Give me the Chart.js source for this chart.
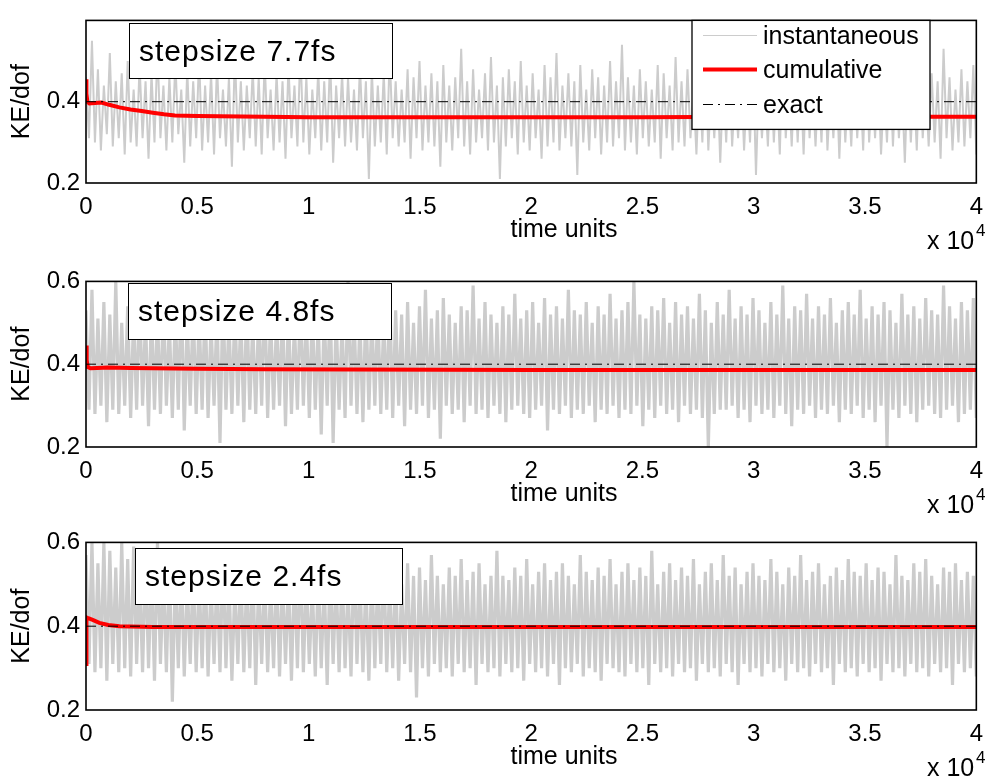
<!DOCTYPE html>
<html>
<head>
<meta charset="utf-8">
<script src="https://cdn.jsdelivr.net/npm/chart.js@4.4.1/dist/chart.umd.min.js"></script>
<style>
  body { margin: 0; background: #fff; width: 993px; height: 783px; overflow: hidden; position: relative; }
  canvas { position: absolute; left: 0; }
</style>
</head>
<body>
<canvas id="p1" width="993" height="261" style="top:0px"></canvas>
<canvas id="p2" width="993" height="261" style="top:261px"></canvas>
<canvas id="p3" width="993" height="261" style="top:522px"></canvas>
<script>
// time units run 0..40000, shown as 0..4 x 10^4
const tMax = 40000;
const exactValue = 0.4;
const xTicks = [0, 0.5, 1, 1.5, 2, 2.5, 3, 3.5, 4];

// stepsize 7.7fs -- instantaneous KE/dof, evenly sampled over the run
const inst77 = [
  0.46,0.31,0.55,0.30,0.48,0.28,0.44,0.32,0.52,0.29,0.45,0.31,0.47,0.27,0.50,0.30,0.43,0.29,0.49,0.31,
  0.45,0.26,0.47,0.30,0.53,0.31,0.44,0.28,0.46,0.30,0.50,0.32,0.43,0.25,0.48,0.29,0.45,0.31,0.51,0.28,
  0.44,0.30,0.47,0.27,0.49,0.31,0.43,0.29,0.46,0.24,0.52,0.30,0.45,0.28,0.44,0.31,0.48,0.29,0.46,0.27,
  0.50,0.31,0.43,0.28,0.47,0.30,0.45,0.26,0.49,0.31,0.44,0.29,0.53,0.30,0.46,0.27,0.43,0.31,0.48,0.28,
  0.45,0.30,0.51,0.25,0.44,0.31,0.47,0.29,0.46,0.30,0.43,0.28,0.49,0.31,0.45,0.21,0.48,0.29,0.44,0.30,
  0.47,0.27,0.52,0.31,0.45,0.29,0.43,0.30,0.48,0.26,0.46,0.31,0.50,0.28,0.44,0.30,0.47,0.29,0.45,0.24,
  0.49,0.30,0.44,0.28,0.46,0.31,0.53,0.29,0.45,0.27,0.48,0.30,0.43,0.31,0.47,0.28,0.51,0.30,0.44,0.21,
  0.46,0.29,0.48,0.31,0.45,0.27,0.50,0.30,0.44,0.28,0.47,0.31,0.43,0.26,0.49,0.29,0.46,0.30,0.52,0.28,
  0.44,0.31,0.47,0.29,0.45,0.22,0.49,0.30,0.43,0.28,0.48,0.31,0.46,0.27,0.44,0.30,0.50,0.29,0.45,0.31,
  0.54,0.28,0.46,0.30,0.44,0.27,0.48,0.31,0.45,0.29,0.43,0.30,0.49,0.26,0.47,0.31,0.44,0.28,0.51,0.30,
  0.45,0.29,0.48,0.31,0.43,0.27,0.46,0.30,0.52,0.28,0.44,0.31,0.47,0.25,0.45,0.30,0.49,0.29,0.43,0.31,
  0.47,0.28,0.44,0.30,0.50,0.22,0.46,0.31,0.43,0.29,0.48,0.30,0.45,0.27,0.53,0.31,0.44,0.29,0.47,0.30,
  0.46,0.27,0.49,0.31,0.44,0.29,0.45,0.30,0.51,0.28,0.43,0.31,0.47,0.26,0.46,0.30,0.44,0.29,0.48,0.31,
  0.45,0.28,0.52,0.30,0.44,0.31,0.47,0.27,0.43,0.30,0.49,0.29,0.46,0.31,0.44,0.25,0.48,0.30,0.45,0.28,
  0.50,0.31,0.44,0.29,0.47,0.30,0.45,0.26,0.53,0.31,0.46,0.28,0.43,0.30,0.48,0.29,0.45,0.31,0.49,0.27
];
const cumTime77 = [0, 20, 60, 150, 400, 700, 1000, 1500, 2000, 2500, 3000, 3500, 4000, 5000, 6000, 8000, 10000, 15000, 20000, 25000, 30000, 35000, 40000];
const cumVal77  = [0.455, 0.42, 0.40, 0.396, 0.397, 0.398, 0.393, 0.386, 0.381, 0.377, 0.373, 0.369, 0.366, 0.365, 0.364, 0.363, 0.362, 0.362, 0.362, 0.362, 0.363, 0.363, 0.363];

// stepsize 4.8fs
const inst48 = [
  0.53,0.29,0.58,0.28,0.51,0.30,0.55,0.26,0.52,0.29,0.60,0.28,0.50,0.30,0.54,0.27,0.52,0.29,0.57,0.30,
  0.51,0.25,0.54,0.29,0.52,0.28,0.56,0.30,0.50,0.27,0.53,0.29,0.59,0.24,0.51,0.30,0.54,0.28,0.52,0.29,
  0.55,0.27,0.50,0.30,0.53,0.21,0.57,0.29,0.51,0.28,0.54,0.30,0.52,0.26,0.56,0.29,0.50,0.28,0.53,0.30,
  0.58,0.27,0.52,0.29,0.51,0.30,0.55,0.25,0.53,0.28,0.50,0.29,0.57,0.30,0.52,0.27,0.54,0.29,0.51,0.23,
  0.53,0.30,0.56,0.21,0.52,0.29,0.50,0.27,0.60,0.30,0.53,0.28,0.51,0.26,0.55,0.29,0.52,0.30,0.54,0.28,
  0.51,0.29,0.57,0.27,0.53,0.30,0.52,0.25,0.55,0.29,0.50,0.28,0.54,0.30,0.58,0.27,0.51,0.29,0.53,0.22,
  0.56,0.30,0.52,0.28,0.50,0.29,0.54,0.26,0.53,0.30,0.59,0.28,0.51,0.29,0.55,0.27,0.52,0.30,0.50,0.28,
  0.54,0.26,0.52,0.29,0.57,0.30,0.51,0.28,0.53,0.27,0.55,0.29,0.50,0.30,0.56,0.24,0.52,0.29,0.54,0.28,
  0.51,0.30,0.58,0.27,0.53,0.29,0.52,0.28,0.55,0.30,0.50,0.26,0.54,0.29,0.52,0.28,0.57,0.30,0.51,0.27,
  0.53,0.29,0.55,0.28,0.60,0.30,0.52,0.25,0.51,0.29,0.54,0.27,0.53,0.30,0.56,0.28,0.50,0.29,0.55,0.26,
  0.52,0.30,0.54,0.28,0.51,0.29,0.57,0.27,0.53,0.20,0.50,0.28,0.55,0.29,0.52,0.29,0.58,0.30,0.51,0.27,
  0.54,0.29,0.52,0.26,0.56,0.30,0.53,0.28,0.50,0.29,0.55,0.27,0.52,0.30,0.59,0.28,0.51,0.25,0.54,0.29,
  0.53,0.28,0.57,0.30,0.51,0.27,0.54,0.29,0.52,0.28,0.56,0.30,0.50,0.26,0.53,0.29,0.55,0.28,0.52,0.30,
  0.58,0.27,0.51,0.29,0.54,0.26,0.52,0.30,0.55,0.20,0.53,0.29,0.50,0.27,0.57,0.30,0.52,0.28,0.54,0.26,
  0.51,0.29,0.56,0.30,0.53,0.28,0.52,0.27,0.59,0.29,0.54,0.30,0.51,0.26,0.55,0.28,0.53,0.29,0.56,0.27
];
const cumTime48 = [0, 30, 80, 200, 500, 1000, 2000, 3000, 5000, 8000, 12000, 20000, 30000, 40000];
const cumVal48  = [0.445, 0.41, 0.393, 0.390, 0.391, 0.392, 0.391, 0.390, 0.389, 0.388, 0.387, 0.386, 0.386, 0.386];

// stepsize 2.4fs
const inst24 = [
  0.57,0.31,0.60,0.29,0.55,0.30,0.60,0.27,0.58,0.31,0.54,0.29,0.60,0.30,0.56,0.28,0.59,0.31,0.53,0.29,
  0.57,0.30,0.55,0.27,0.60,0.31,0.52,0.29,0.56,0.22,0.53,0.30,0.55,0.28,0.51,0.31,0.54,0.29,0.52,0.30,
  0.55,0.28,0.51,0.31,0.53,0.29,0.57,0.30,0.52,0.27,0.50,0.31,0.54,0.29,0.52,0.30,0.56,0.26,0.51,0.31,
  0.53,0.29,0.50,0.30,0.55,0.28,0.52,0.31,0.51,0.27,0.54,0.30,0.58,0.29,0.52,0.31,0.50,0.28,0.53,0.30,
  0.51,0.26,0.55,0.31,0.52,0.29,0.54,0.30,0.50,0.28,0.57,0.31,0.52,0.29,0.51,0.27,0.54,0.30,0.52,0.31,
  0.56,0.29,0.51,0.30,0.53,0.27,0.50,0.31,0.55,0.29,0.52,0.23,0.54,0.30,0.51,0.28,0.57,0.31,0.52,0.29,
  0.50,0.30,0.54,0.28,0.52,0.31,0.56,0.29,0.51,0.30,0.53,0.26,0.55,0.31,0.50,0.29,0.52,0.30,0.58,0.28,
  0.52,0.31,0.51,0.29,0.54,0.30,0.52,0.27,0.56,0.31,0.50,0.29,0.53,0.30,0.55,0.28,0.51,0.31,0.53,0.26,
  0.55,0.30,0.52,0.29,0.50,0.31,0.57,0.28,0.53,0.30,0.51,0.29,0.54,0.27,0.52,0.31,0.56,0.30,0.50,0.29,
  0.53,0.28,0.55,0.31,0.51,0.29,0.54,0.30,0.52,0.26,0.58,0.31,0.50,0.29,0.53,0.30,0.55,0.28,0.51,0.31,
  0.54,0.29,0.52,0.30,0.56,0.27,0.50,0.31,0.53,0.29,0.55,0.30,0.51,0.28,0.57,0.31,0.52,0.29,0.54,0.26,
  0.50,0.31,0.53,0.29,0.55,0.30,0.52,0.28,0.51,0.31,0.56,0.29,0.53,0.30,0.50,0.27,0.54,0.31,0.52,0.29,
  0.57,0.30,0.51,0.28,0.53,0.31,0.55,0.29,0.50,0.30,0.52,0.26,0.54,0.31,0.51,0.29,0.56,0.30,0.53,0.28,
  0.52,0.31,0.55,0.29,0.51,0.30,0.54,0.27,0.53,0.31,0.50,0.29,0.57,0.30,0.52,0.28,0.51,0.31,0.55,0.29,
  0.53,0.30,0.56,0.28,0.52,0.31,0.50,0.29,0.54,0.30,0.53,0.26,0.55,0.31,0.51,0.29,0.53,0.30,0.52,0.28
];
const cumTime24 = [0, 10, 30, 100, 300, 600, 1000, 1500, 2000, 3000, 5000, 10000, 20000, 30000, 40000];
const cumVal24  = [0.31, 0.40, 0.421, 0.419, 0.415, 0.408, 0.403, 0.400, 0.399, 0.398, 0.398, 0.398, 0.398, 0.398, 0.398];

const FONT = "'Liberation Sans', Arial, Helvetica, sans-serif";
const GREY = '#cccccc';
const RED = '#ff0000';
const DASHDOT = [10, 5, 2, 5];

// frame, x label, exponent, text box and legend drawn over the chart
const decor = {
  id: 'decor',
  afterDraw(chart, args, opts) {
    const { ctx, chartArea: a } = chart;
    ctx.save();
    ctx.strokeStyle = '#000';
    ctx.lineWidth = 1.6;
    ctx.strokeRect(a.left, a.top, a.right - a.left, a.bottom - a.top);

    ctx.fillStyle = '#000';
    ctx.textBaseline = 'middle';
    ctx.textAlign = 'center';
    ctx.font = '25px ' + FONT;
    ctx.fillText('time units', 564, a.bottom + 47);
    ctx.textAlign = 'left';
    ctx.fillText('x 10', 927, a.bottom + 59);
    ctx.font = '17px ' + FONT;
    ctx.fillText('4', 976, a.bottom + 48);

    // stepsize box
    const b = opts.box;
    ctx.fillStyle = '#fff';
    ctx.fillRect(b.x, b.y, b.w, b.h);
    ctx.lineWidth = 1;
    ctx.strokeStyle = '#000';
    ctx.strokeRect(b.x + 0.5, b.y + 0.5, b.w, b.h);
    ctx.fillStyle = '#000';
    ctx.font = '30px ' + FONT;
    ctx.textBaseline = 'alphabetic';
    ctx.letterSpacing = '1px';
    ctx.fillText(b.text, b.x + 10, b.y + 38);
    ctx.letterSpacing = '0px';

    if (opts.legend) {
      const lx = 692, ly = a.top, lw = 238, lh = 109;
      ctx.fillStyle = '#fff';
      ctx.fillRect(lx, ly, lw, lh);
      ctx.strokeStyle = '#000';
      ctx.lineWidth = 1.3;
      ctx.strokeRect(lx, ly, lw, lh);
      const items = [
        { text: 'instantaneous', color: GREY, width: 1, dash: [], y: 35 },
        { text: 'cumulative', color: RED, width: 4, dash: [], y: 69 },
        { text: 'exact', color: '#000', width: 1, dash: DASHDOT, y: 104 }
      ];
      items.forEach((it) => {
        ctx.beginPath();
        ctx.strokeStyle = it.color;
        ctx.lineWidth = it.width;
        ctx.setLineDash(it.dash);
        ctx.moveTo(703, it.y + 0.5);
        ctx.lineTo(757, it.y + 0.5);
        ctx.stroke();
        ctx.setLineDash([]);
        ctx.fillStyle = '#000';
        ctx.font = '25px ' + FONT;
        ctx.textBaseline = 'middle';
        ctx.fillText(it.text, 763, it.y + 2);
      });
    }
    ctx.restore();
  }
};

function makePanel(id, inst, cumTime, cumVal, p) {
  const step = tMax / (inst.length - 1);
  const instData = inst.map((v, i) => ({ x: i * step, y: v }));
  const cumData = cumTime.map((t, i) => ({ x: t, y: cumVal[i] }));
  const exactData = [{ x: 0, y: exactValue }, { x: tMax, y: exactValue }];

  new Chart(document.getElementById(id), {
    type: 'line',
    data: {
      datasets: [
        { label: 'exact', data: exactData, borderColor: '#000', borderWidth: 1, borderDash: DASHDOT, order: 0 },
        { label: 'cumulative', data: cumData, borderColor: RED, borderWidth: 4, order: 1 },
        { label: 'instantaneous', data: instData, borderColor: GREY, borderWidth: p.instWidth, borderJoinStyle: 'bevel', order: 2 }
      ]
    },
    options: {
      responsive: false,
      animation: false,
      devicePixelRatio: 1,
      elements: { point: { radius: 0 }, line: { tension: 0 } },
      layout: { padding: { top: p.top, right: 9, left: 0, bottom: 0 } },
      scales: {
        x: {
          type: 'linear', min: 0, max: tMax,
          afterBuildTicks: (s) => { s.ticks = xTicks.map((v) => ({ value: v * 10000 })); },
          ticks: {
            callback: (v) => String(v / 10000),
            color: '#000', font: { family: FONT, size: 24 }, padding: 10, maxRotation: 0, autoSkip: false
          },
          grid: { display: false, drawTicks: false },
          border: { display: false },
          afterFit: (s) => { s.height = 261 - p.bottom; }
        },
        y: {
          min: 0.2, max: 0.6,
          ticks: {
            stepSize: 0.2,
            callback: (v) => (p.hideTop && v > 0.5 ? '' : v.toFixed(1)),
            color: '#000', font: { family: FONT, size: 24 }, padding: 6
          },
          grid: { display: false, drawTicks: false },
          border: { display: false },
          title: { display: true, text: 'KE/dof', color: '#000', font: { family: FONT, size: 25 }, padding: { top: 7, bottom: 0 } },
          afterFit: (s) => { s.width = 86; }
        }
      },
      plugins: {
        legend: { display: false },
        tooltip: { enabled: false },
        decor: { box: p.box, legend: p.legend }
      }
    },
    plugins: [decor]
  });
}

makePanel('p1', inst77, cumTime77, cumVal77, {
  top: 15, bottom: 183, instWidth: 2, hideTop: true, legend: true,
  box: { x: 129, y: 23, w: 263, h: 55, text: 'stepsize 7.7fs' }
});
makePanel('p2', inst48, cumTime48, cumVal48, {
  top: 17, bottom: 186, instWidth: 3.2, hideTop: false, legend: false,
  box: { x: 128, y: 22, w: 263, h: 56, text: 'stepsize 4.8fs' }
});
makePanel('p3', inst24, cumTime24, cumVal24, {
  top: 20, bottom: 188, instWidth: 3.2, hideTop: false, legend: false,
  box: { x: 135, y: 26, w: 267, h: 56, text: 'stepsize 2.4fs' }
});
</script>
</body>
</html>
